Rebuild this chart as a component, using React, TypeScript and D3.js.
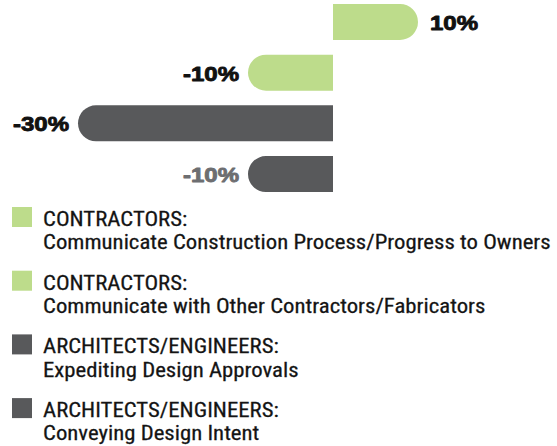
import React, { useEffect, useRef } from 'react';
import * as d3 from 'd3';

const WIDTH = 557;
const HEIGHT = 446;

// one entry per bar, top to bottom
const groups = ['CONTRACTORS:', 'CONTRACTORS:', 'ARCHITECTS/ENGINEERS:', 'ARCHITECTS/ENGINEERS:'];
const categories = [
  'Communicate Construction Process/Progress to Owners',
  'Communicate with Other Contractors/Fabricators',
  'Expediting Design Approvals',
  'Conveying Design Intent',
];
const values = [10, -10, -30, -10];
const valueLabels = ['10%', '-10%', '-30%', '-10%'];

const GREEN = '#bddc8b';
const GRAY = '#58595b';
const barColors = [GREEN, GREEN, GRAY, GRAY];
const labelColors = ['#111111', '#111111', '#111111', '#6d6e71'];

const LEGEND_FONT = "'Liberation Sans Narrow', 'Roboto Condensed', Roboto, sans-serif";
const LABEL_FONT = "'Liberation Sans', Arial, sans-serif";

function barPath(x0: number, x1: number, y: number, h: number) {
  const r = h / 2;
  if (x1 >= x0) {
    return `M${x0},${y}H${x1 - r}A${r},${r} 0 0 1 ${x1 - r},${y + h}H${x0}Z`;
  }
  return `M${x0},${y}H${x1 + r}A${r},${r} 0 0 0 ${x1 + r},${y + h}H${x0}Z`;
}

export default function App() {
  const svgRef = useRef<SVGSVGElement>(null);

  useEffect(() => {
    const svg = d3.select(svgRef.current);
    svg.selectAll('*').remove();

    const x = d3.scaleLinear().domain([-30, 10]).range([78, 418]);
    const y = d3.scaleBand<number>()
      .domain(d3.range(values.length))
      .range([4, 192])
      .paddingInner(0.29)
      .paddingOuter(0);

    const bars = svg.append('g');
    bars.selectAll('path')
      .data(values)
      .join('path')
      .attr('fill', (d, i) => barColors[i])
      .attr('d', (d, i) => barPath(x(0), x(d), y(i)!, y.bandwidth()));

    const labels = bars.selectAll('text')
      .data(values)
      .join('text')
      .attr('text-anchor', d => (d >= 0 ? 'start' : 'end'))
      .attr('font-family', LABEL_FONT)
      .attr('font-weight', 700)
      .attr('font-size', 21)
      .attr('fill', (d, i) => labelColors[i])
      .attr('stroke', (d, i) => labelColors[i])
      .attr('stroke-width', 0.9)
      .attr('stroke-linejoin', 'round')
      .text((d, i) => valueLabels[i]);

    // widen to match the heavy face ("-30%" is ~57px wide in the original)
    const w30 = (labels.nodes() as SVGTextElement[])[2].getComputedTextLength();
    const kl = w30 > 0 ? 56 / w30 : 1;
    labels.attr('transform', (d, i) => {
      const tx = d >= 0 ? x(d) + 12 : x(d) - 9;
      const ty = y(i)! + y.bandwidth() / 2 + 8;
      return `translate(${tx},${ty}) scale(${kl},1)`;
    });

    // legend
    const legendTop = 207;
    const legendStep = 63.7;
    const legend = svg.append('g');
    const items = legend.selectAll('g')
      .data(categories)
      .join('g')
      .attr('transform', (d, i) => `translate(12,${legendTop + i * legendStep})`);

    items.append('rect')
      .attr('width', 20)
      .attr('height', 20)
      .attr('fill', (d, i) => barColors[i]);

    items.each(function (d, i) {
      const g = d3.select(this);
      g.append('text').attr('y', 19).text(groups[i]);
      g.append('text').attr('y', 42.3).text(d);
    });

    legend.selectAll('text')
      .attr('font-family', LEGEND_FONT)
      .attr('font-size', 20.5)
      .attr('fill', '#141414')
      .attr('stroke', '#141414')
      .attr('stroke-width', 0.25);

    // squeeze to the condensed face of the original
    const longest = (legend.selectAll('text').nodes() as SVGTextElement[])
      .reduce((m, n) => Math.max(m, n.getComputedTextLength()), 0);
    const k = longest > 0 ? 508 / longest : 1;
    legend.selectAll('text')
      .attr('transform', `translate(31,0) scale(${k},1)`);
  }, []);

  return (
    <svg
      ref={svgRef}
      width={WIDTH}
      height={HEIGHT}
      viewBox={`0 0 ${WIDTH} ${HEIGHT}`}
      style={{ position: 'absolute', left: 0, top: 0, background: '#fff' }}
    />
  );
}
